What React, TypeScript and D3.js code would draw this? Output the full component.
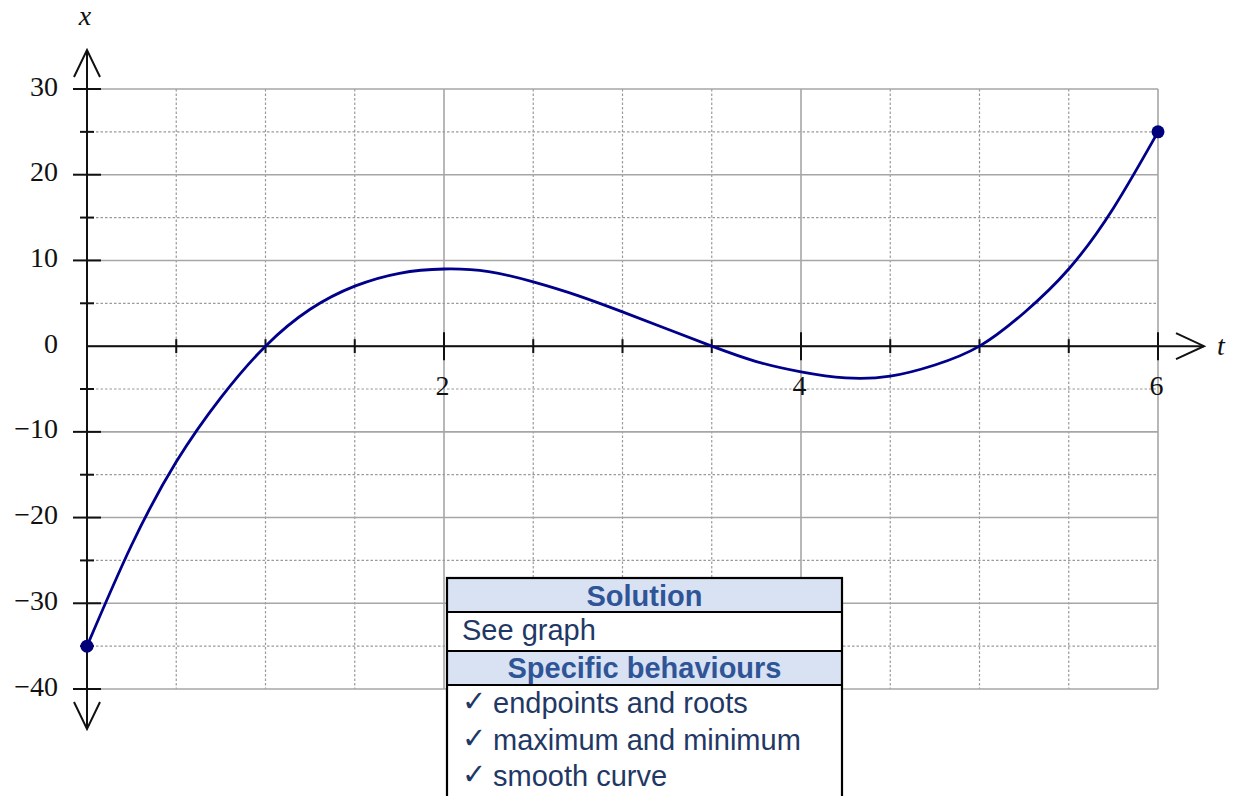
import React from "react";
import * as d3 from "d3";

const tValues = [0, 0.25, 0.5, 0.75, 1, 1.25, 1.5, 1.75, 2, 2.25, 2.5, 2.75, 3, 3.25, 3.5, 3.75, 4, 4.25, 4.5, 4.75, 5, 5.25, 5.5, 5.75, 6];
const xValues = [-35, -23.2, -13.5, -6, 0, 4.3, 7, 8.5, 9, 8.7, 7.5, 5.9, 4, 2, 0, -1.8, -3, -3.7, -3.5, -2.2, 0, 3.9, 9, 16.1, 25];
const endpoints = [
  { t: 0, x: -35 },
  { t: 6, x: 25 },
];
const tTickLabels = [2, 4, 6];
const xTickLabels = [30, 20, 10, 0, -10, -20, -30, -40];
const tGrid = d3.range(0, 6.01, 0.5);
const xGrid = d3.range(-40, 30.01, 5);
const tableHeader1 = "Solution";
const tableRow1 = "See graph";
const tableHeader2 = "Specific behaviours";
const tableItems = ["endpoints and roots", "maximum and minimum", "smooth curve"];

const W = 1234;
const H = 796;

export default function App() {
  const sx = d3.scaleLinear().domain([0, 6]).range([87, 1158]);
  const sy = d3.scaleLinear().domain([-40, 30]).range([689, 89]);
  const pts = tValues.map((t, i) => [t, xValues[i]] as [number, number]);
  const line = d3
    .line<[number, number]>()
    .x((d) => sx(d[0]))
    .y((d) => sy(d[1]))
    .curve(d3.curveNatural);
  const x0 = sx(0);
  const y0 = sy(0);
  const serif = "'Liberation Serif', 'DejaVu Serif', serif";
  const sans = "'Liberation Sans', Arial, sans-serif";
  const isMajorT = (t: number) => Math.abs(t % 2) < 1e-6;
  const isMajorX = (x: number) => Math.abs(x % 10) < 1e-6;

  // table geometry
  const tx0 = 447, tx1 = 842;
  const rows = [578, 612, 651, 685];
  const navy = "#1F3864";
  const blueText = "#2F5597";
  const headerFill = "#D9E2F3";

  return (
    <div style={{ position: "absolute", left: 0, top: 0 }}>
      <svg width={W} height={H} style={{ display: "block", background: "#fff" }}>
        {/* grid */}
        {tGrid.map((t) => (
          <line
            key={"gt" + t}
            x1={sx(t)}
            x2={sx(t)}
            y1={sy(30)}
            y2={sy(-40)}
            stroke={isMajorT(t) ? "#a6a6a6" : "#9a9a9a"}
            strokeWidth={isMajorT(t) ? 1.6 : 1.2}
            strokeDasharray={isMajorT(t) ? undefined : "2.5,2"}
          />
        ))}
        {xGrid.map((x) => (
          <line
            key={"gx" + x}
            x1={sx(0)}
            x2={sx(6)}
            y1={sy(x)}
            y2={sy(x)}
            stroke={isMajorX(x) ? "#a6a6a6" : "#9a9a9a"}
            strokeWidth={isMajorX(x) ? 1.6 : 1.2}
            strokeDasharray={isMajorX(x) ? undefined : "2.5,2"}
          />
        ))}
        {/* axes */}
        <line x1={x0} x2={x0} y1={50} y2={729} stroke="#111" strokeWidth={2} />
        <line x1={x0} x2={1204} y1={y0} y2={y0} stroke="#111" strokeWidth={2} />
        <polyline points={`${x0 - 13},${77} ${x0},${50} ${x0 + 13},${77}`} fill="none" stroke="#111" strokeWidth={2} />
        <polyline points={`${x0 - 13},${702} ${x0},${729} ${x0 + 13},${702}`} fill="none" stroke="#111" strokeWidth={2} />
        <polyline points={`${1176},${y0 - 13} ${1204},${y0} ${1176},${y0 + 13}`} fill="none" stroke="#111" strokeWidth={2} />
        {/* ticks */}
        {tGrid.filter((t) => t > 0).map((t) => {
          const len = isMajorT(t) ? 14 : 7;
          return <line key={"tt" + t} x1={sx(t)} x2={sx(t)} y1={y0 - len} y2={y0 + len} stroke="#111" strokeWidth={2} />;
        })}
        {xGrid.filter((x) => x !== 0).map((x) => {
          const len = isMajorX(x) ? 14 : 7;
          return <line key={"tx" + x} x1={x0 - len} x2={x0 + len} y1={sy(x)} y2={sy(x)} stroke="#111" strokeWidth={2} />;
        })}
        {/* tick labels */}
        {tTickLabels.map((t) => (
          <text key={"lt" + t} x={sx(t) - 1.5} y={y0 + 49} textAnchor="middle" fontFamily={serif} fontSize={28} fill="#111">
            {t}
          </text>
        ))}
        {xTickLabels.map((x) => (
          <text key={"lx" + x} x={58} y={sy(x) + 6.5} textAnchor="end" fontFamily={serif} fontSize={28} fill="#111">
            {x < 0 ? "\u2212" + Math.abs(x) : String(x)}
          </text>
        ))}
        <text x={85} y={25} textAnchor="middle" fontFamily={serif} fontStyle="italic" fontSize={28} fill="#111">x</text>
        <text x={1221} y={355} textAnchor="middle" fontFamily={serif} fontStyle="italic" fontSize={28} fill="#111">t</text>
        {/* curve */}
        <path d={line(pts) || ""} fill="none" stroke="#00008B" strokeWidth={2.8} />
        {endpoints.map((p) => (
          <circle key={"ep" + p.t} cx={sx(p.t)} cy={sy(p.x)} r={6.5} fill="#00007A" />
        ))}
        {/* table */}
        <rect x={tx0} y={rows[0]} width={tx1 - tx0} height={rows[1] - rows[0]} fill={headerFill} />
        <rect x={tx0} y={rows[1]} width={tx1 - tx0} height={rows[2] - rows[1]} fill="#fff" />
        <rect x={tx0} y={rows[2]} width={tx1 - tx0} height={rows[3] - rows[2]} fill={headerFill} />
        <rect x={tx0} y={rows[3]} width={tx1 - tx0} height={H - rows[3] + 5} fill="#fff" />
        <rect x={tx0} y={rows[0]} width={tx1 - tx0} height={H - rows[0] + 10} fill="none" stroke="#000" strokeWidth={2.2} />
        {rows.slice(1).map((r) => (
          <line key={"row" + r} x1={tx0} x2={tx1} y1={r} y2={r} stroke="#000" strokeWidth={2.2} />
        ))}
        <text x={(tx0 + tx1) / 2} y={606} textAnchor="middle" fontFamily={sans} fontWeight="bold" fontSize={29} fill={blueText}>
          {tableHeader1}
        </text>
        <text x={462} y={640} fontFamily={sans} fontSize={29} fill={navy}>
          {tableRow1}
        </text>
        <text x={(tx0 + tx1) / 2} y={678} textAnchor="middle" fontFamily={sans} fontWeight="bold" fontSize={29} fill={blueText}>
          {tableHeader2}
        </text>
        {tableItems.map((s, i) => (
          <g key={s}>
            <text x={462} y={711 + i * 36.5} fontFamily="'DejaVu Sans', sans-serif" fontSize={29} fill={navy}>{"\u2713"}</text>
            <text x={493} y={713 + i * 36.5} fontFamily={sans} fontSize={29} fill={navy}>{s}</text>
          </g>
        ))}
      </svg>
    </div>
  );
}
